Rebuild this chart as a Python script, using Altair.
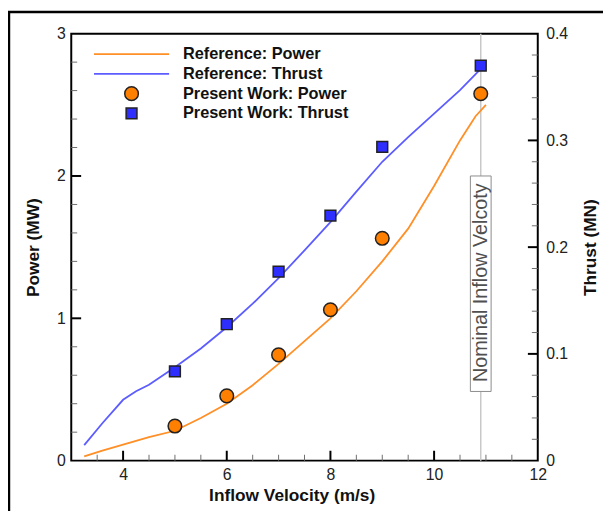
import altair as alt
import pandas as pd

# ---------------- data ----------------
ref_power_v = [3.25, 3.6, 4.0, 4.5, 5.0, 5.5, 6.0, 6.5, 7.0, 7.5, 8.0, 8.5, 9.0, 9.5, 10.0, 10.5, 10.8, 11.0]
ref_power = [0.03, 0.07, 0.113, 0.165, 0.21, 0.30, 0.40, 0.53, 0.68, 0.84, 1.00, 1.19, 1.40, 1.63, 1.93, 2.25, 2.42, 2.50]

ref_thrust_v = [3.25, 3.6, 4.0, 4.25, 4.5, 5.0, 5.5, 6.0, 6.5, 7.0, 7.5, 8.0, 8.5, 9.0, 9.5, 10.0, 10.5, 10.9]
ref_thrust = [0.0145, 0.035, 0.057, 0.065, 0.071, 0.0875, 0.105, 0.125, 0.147, 0.171, 0.197, 0.2235, 0.252, 0.280, 0.303, 0.325, 0.347, 0.367]

pw_v = [5, 6, 7, 8, 9, 10.9]
pw_power = [0.243, 0.455, 0.743, 1.06, 1.562, 2.578]
pw_thrust = [0.0836, 0.1278, 0.177, 0.2296, 0.294, 0.370]

nominal_v = [10.9]
nominal_label = "Nominal Inflow Velcoty"

x_labels = [4, 6, 8, 10, 12]
x_major_ticks = [4, 6, 8, 10]
x_minor_ticks = [3.5, 4.5, 5, 5.5, 6.5, 7, 7.5, 8.5, 9, 9.5, 10.5, 11, 11.5]
p_labels = [0, 1, 2, 3]
p_major_ticks = [1, 2]
p_minor_ticks = [0.2, 0.4, 0.6, 0.8, 1.2, 1.4, 1.6, 1.8, 2.2, 2.4, 2.6, 2.8]
t_labels = [0, 0.1, 0.2, 0.3, 0.4]
t_major_ticks = [0.1, 0.2, 0.3]
t_minor_ticks = [0.02, 0.04, 0.06, 0.08, 0.12, 0.14, 0.16, 0.18, 0.22, 0.24, 0.26, 0.28, 0.32, 0.34, 0.36, 0.38]

legend_labels = ["Reference: Power", "Reference: Thrust", "Present Work: Power", "Present Work: Thrust"]

# ---------------- style ----------------
W, H = 472, 432
FONT = "Liberation Sans"
ORANGE_LINE = "#FF8F26"
BLUE_LINE = "#5C5CFF"
ORANGE_FILL = "#FF7F00"
BLUE_FILL = "#2E2EFF"
MAJ_COLOR = "#000000"
MIN_COLOR = "#6E6E6E"

x_scale = alt.Scale(domain=[3, 12], nice=False, zero=False)
p_scale = alt.Scale(domain=[0, 3], nice=False)
t_scale = alt.Scale(domain=[0, 0.4], nice=False)

x_axis = alt.Axis(values=x_labels, title="Inflow Velocity (m/s)", labelFlush=False,
                  labelPadding=6, titlePadding=4, titleX=223)
p_axis = alt.Axis(values=p_labels, title="Power (MW)", orient="left", format="d",
                  labelPadding=6, titlePadding=14)
t_axis = alt.Axis(values=t_labels, title="Thrust (MN)", orient="right",
                  labelExpr="datum.value == 0 ? '0' : format(datum.value, '.1f')",
                  labelPadding=8, titlePadding=14, titleAngle=270, titleBaseline="top")


def X(field="v"):
    return alt.X(f"{field}:Q", scale=x_scale, axis=x_axis)


def YP(field="p"):
    return alt.Y(f"{field}:Q", scale=p_scale, axis=p_axis)


def YT(field="t"):
    return alt.Y(f"{field}:Q", scale=t_scale, axis=t_axis)


ref_p_df = pd.DataFrame({"v": ref_power_v, "p": ref_power})
ref_t_df = pd.DataFrame({"v": ref_thrust_v, "t": ref_thrust})
pw_p_df = pd.DataFrame({"v": pw_v, "p": pw_power})
pw_t_df = pd.DataFrame({"v": pw_v, "t": pw_thrust})
nom_df = pd.DataFrame({"v": nominal_v})
box_df = pd.DataFrame({"v": [nominal_v[0] - 0.2], "v2": [nominal_v[0] + 0.2], "p": [0.486], "p2": [2.0],
                       "pm": [1.243], "vm": nominal_v})
one = pd.DataFrame({"k": [0]})

MAJ_LEN, MIN_LEN = 10, 6

# ---------------- power group ----------------
nom_rule = alt.Chart(nom_df).mark_rule(color="#C8C8C8", strokeWidth=1.5).encode(x=X())
nom_box = alt.Chart(box_df).mark_rect(fill="white", stroke="#8C8C8C", strokeWidth=1).encode(
    x=X(), x2="v2:Q", y=YP(), y2="p2:Q")
nom_text = alt.Chart(box_df).mark_text(angle=270, font=FONT, fontSize=20, color="#505050",
                                       align="center", baseline="middle", dx=1).encode(
    x=X("vm"), y=YP("pm"), text=alt.value(nominal_label))

ref_p_line = alt.Chart(ref_p_df).mark_line(color=ORANGE_LINE, strokeWidth=1.8).encode(x=X(), y=YP())
pw_p_pts = alt.Chart(pw_p_df).mark_point(shape="circle", filled=True, fill=ORANGE_FILL, stroke="#222222",
                                         strokeWidth=1.5, size=190, opacity=1).encode(x=X(), y=YP())

p_major = alt.Chart(pd.DataFrame({"p": p_major_ticks})).mark_tick(
    orient="horizontal", color=MAJ_COLOR, size=MAJ_LEN, thickness=2, opacity=1).encode(
    y=YP(), x=alt.value(MAJ_LEN / 2))
p_minor = alt.Chart(pd.DataFrame({"p": p_minor_ticks})).mark_tick(
    orient="horizontal", color=MIN_COLOR, size=MIN_LEN, thickness=1, opacity=1).encode(
    y=YP(), x=alt.value(MIN_LEN / 2))
x_major = alt.Chart(pd.DataFrame({"v": x_major_ticks})).mark_tick(
    orient="vertical", color=MAJ_COLOR, size=MAJ_LEN, thickness=2, opacity=1).encode(
    x=X(), y=alt.value(H - MAJ_LEN / 2))
x_minor = alt.Chart(pd.DataFrame({"v": x_minor_ticks})).mark_tick(
    orient="vertical", color=MIN_COLOR, size=MIN_LEN, thickness=1, opacity=1).encode(
    x=X(), y=alt.value(H - MIN_LEN / 2))

# legend (manual)
leg_y0, leg_dy = 20.7, 20
legend_layers = [
    alt.Chart(one).mark_rule(color=ORANGE_LINE, strokeWidth=2).encode(
        x=alt.value(23), x2=alt.value(99), y=alt.value(leg_y0)),
    alt.Chart(one).mark_rule(color=BLUE_LINE, strokeWidth=2).encode(
        x=alt.value(23), x2=alt.value(99), y=alt.value(leg_y0 + leg_dy)),
    alt.Chart(one).mark_point(shape="circle", filled=True, fill=ORANGE_FILL, stroke="#222222",
                              strokeWidth=1.5, size=190, opacity=1).encode(
        x=alt.value(61), y=alt.value(leg_y0 + 2 * leg_dy)),
    alt.Chart(one).mark_point(shape="square", filled=True, fill=BLUE_FILL, stroke="#222222",
                              strokeWidth=1.5, size=120, opacity=1).encode(
        x=alt.value(61), y=alt.value(leg_y0 + 3 * leg_dy)),
]
for i, lab in enumerate(legend_labels):
    legend_layers.append(
        alt.Chart(one).mark_text(align="left", baseline="middle", font=FONT, fontSize=16.5,
                                 fontWeight="bold", color="#111111").encode(
            x=alt.value(113), y=alt.value(leg_y0 + i * leg_dy), text=alt.value(lab)))

# outer frame (top and left edges of the figure border)
frame_top = alt.Chart(one).mark_rule(color="black", strokeWidth=2.5).encode(
    x=alt.value(-64), x2=alt.value(W + 90), y=alt.value(-22))
frame_left = alt.Chart(one).mark_rule(color="black", strokeWidth=2.5).encode(
    x=alt.value(-63), y=alt.value(-23), y2=alt.value(H + 80))

power_group = alt.layer(nom_rule, nom_box, nom_text, ref_p_line, pw_p_pts,
                        p_major, p_minor, x_major, x_minor, frame_top, frame_left, *legend_layers)

# ---------------- thrust group ----------------
ref_t_line = alt.Chart(ref_t_df).mark_line(color=BLUE_LINE, strokeWidth=1.8).encode(x=X(), y=YT())
pw_t_pts = alt.Chart(pw_t_df).mark_point(shape="square", filled=True, fill=BLUE_FILL, stroke="#222222",
                                         strokeWidth=1.5, size=120, opacity=1).encode(x=X(), y=YT())
t_major = alt.Chart(pd.DataFrame({"t": t_major_ticks})).mark_tick(
    orient="horizontal", color=MAJ_COLOR, size=MAJ_LEN, thickness=2, opacity=1).encode(
    y=YT(), x=alt.value(W - MAJ_LEN / 2))
t_minor = alt.Chart(pd.DataFrame({"t": t_minor_ticks})).mark_tick(
    orient="horizontal", color=MIN_COLOR, size=MIN_LEN, thickness=1, opacity=1).encode(
    y=YT(), x=alt.value(W - MIN_LEN / 2))

thrust_group = alt.layer(ref_t_line, pw_t_pts, t_major, t_minor)

chart = alt.layer(power_group, thrust_group).resolve_scale(y="independent").properties(
    width=W, height=H,
    autosize=alt.AutoSizeParams(type="none"),
    padding={"left": 64, "top": 23, "right": 66, "bottom": 48},
    background="white",
).configure_view(stroke="black", strokeWidth=2).configure_axis(
    domain=False, ticks=False, grid=False,
    labelFont=FONT, labelFontSize=16, labelColor="#222222",
    titleFont=FONT, titleFontSize=17.5, titleFontWeight="bold", titleColor="#111111",
)

chart.save("out.html", embed_options={"renderer": "svg", "actions": False})
